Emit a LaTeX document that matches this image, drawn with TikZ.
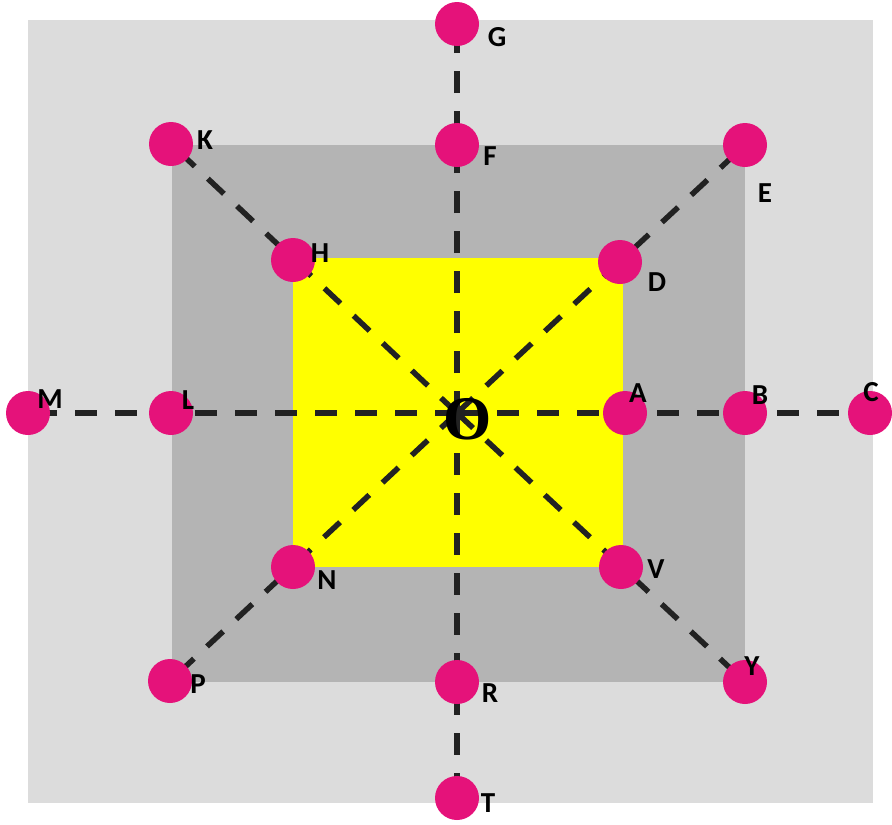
\documentclass[tikz,border=0pt]{standalone}
\usepackage{fontspec}
\setmainfont{Carlito}
\newfontfamily\oserif{Liberation Serif}
\pgfdeclarelayer{bg}
\pgfdeclarelayer{lines}
\pgfsetlayers{bg,lines,main}
\definecolor{lightbg}{HTML}{DCDCDC}
\definecolor{darkbg}{HTML}{B4B4B4}
\definecolor{ylw}{HTML}{FFFF00}
\definecolor{dotpink}{HTML}{E5127A}
\definecolor{dashcol}{HTML}{222222}
\tikzset{
  dotnode/.style={circle, fill=dotpink, draw=none, minimum size=44pt, inner sep=0pt},
  lbl/.style={font=\bfseries\fontsize{29}{29}\selectfont, text=black, inner sep=0pt},
  dashln/.style={draw=dashcol, line width=5.5pt, dash pattern=on 22pt off 18pt},
}
\begin{document}
\begin{tikzpicture}[x=1pt,y=-1pt]
\useasboundingbox (0,0) rectangle (892,825);
\begin{pgfonlayer}{bg}
\fill[white] (0,0) rectangle (892,825);
\fill[lightbg] (28,20) rectangle (873,803);
\fill[darkbg] (172,145) rectangle (745,682);
\fill[ylw] (293,258) rectangle (623,567);
\end{pgfonlayer}
% dots
\coordinate (O) at (457,413);
\node[dotnode] (G) at (457,24) {};
\node[dotnode] (F) at (457,145) {};
\node[dotnode] (K) at (171,144) {};
\node[dotnode] (E) at (745,145) {};
\node[dotnode] (H) at (293,260) {};
\node[dotnode] (D) at (620,262) {};
\node[dotnode] (M) at (28,413) {};
\node[dotnode] (L) at (171,413) {};
\node[dotnode] (A) at (625,413) {};
\node[dotnode] (B) at (745,413) {};
\node[dotnode] (C) at (870,413) {};
\node[dotnode] (N) at (293,567) {};
\node[dotnode] (V) at (621,567) {};
\node[dotnode] (P) at (170,681) {};
\node[dotnode] (R) at (457,682) {};
\node[dotnode] (Y) at (745,682) {};
\node[dotnode] (T) at (457,798) {};
% connectors
\begin{pgfonlayer}{lines}
\draw[dashln] (O) -- (G.center);
\draw[dashln] (O) -- (T.center);
\draw[dashln] (O) -- (M.center);
\draw[dashln] (O) -- (C.center);
\draw[dashln] (O) -- (K.center);
\draw[dashln] (O) -- (E.center);
\draw[dashln] (O) -- (P.center);
\draw[dashln] (O) -- (Y.center);
\end{pgfonlayer}
% labels
\node[lbl] (lG) at (497,37) {G};
\node[lbl] (lF) at (490,156) {F};
\node[lbl] (lK) at (205,140) {K};
\node[lbl] (lE) at (765,193) {E};
\node[lbl] (lH) at (320,253) {H};
\node[lbl] (lD) at (657,282) {D};
\node[lbl] (lM) at (50,399) {M};
\node[lbl] (lL) at (188,400) {L};
\node[lbl] (lA) at (638,393) {A};
\node[lbl] (lB) at (760,395) {B};
\node[lbl] (lC) at (871,392) {C};
\node[lbl] (lN) at (327,580) {N};
\node[lbl] (lV) at (656,569) {V};
\node[lbl] (lP) at (198,684) {P};
\node[lbl] (lY) at (752,666) {Y};
\node[lbl] (lR) at (490,693) {R};
\node[lbl] (lT) at (488,803) {T};
\node[font=\oserif\bfseries\fontsize{62}{62}\selectfont, inner sep=0pt] (lO) at (468,419) {O};
\end{tikzpicture}
\end{document}
